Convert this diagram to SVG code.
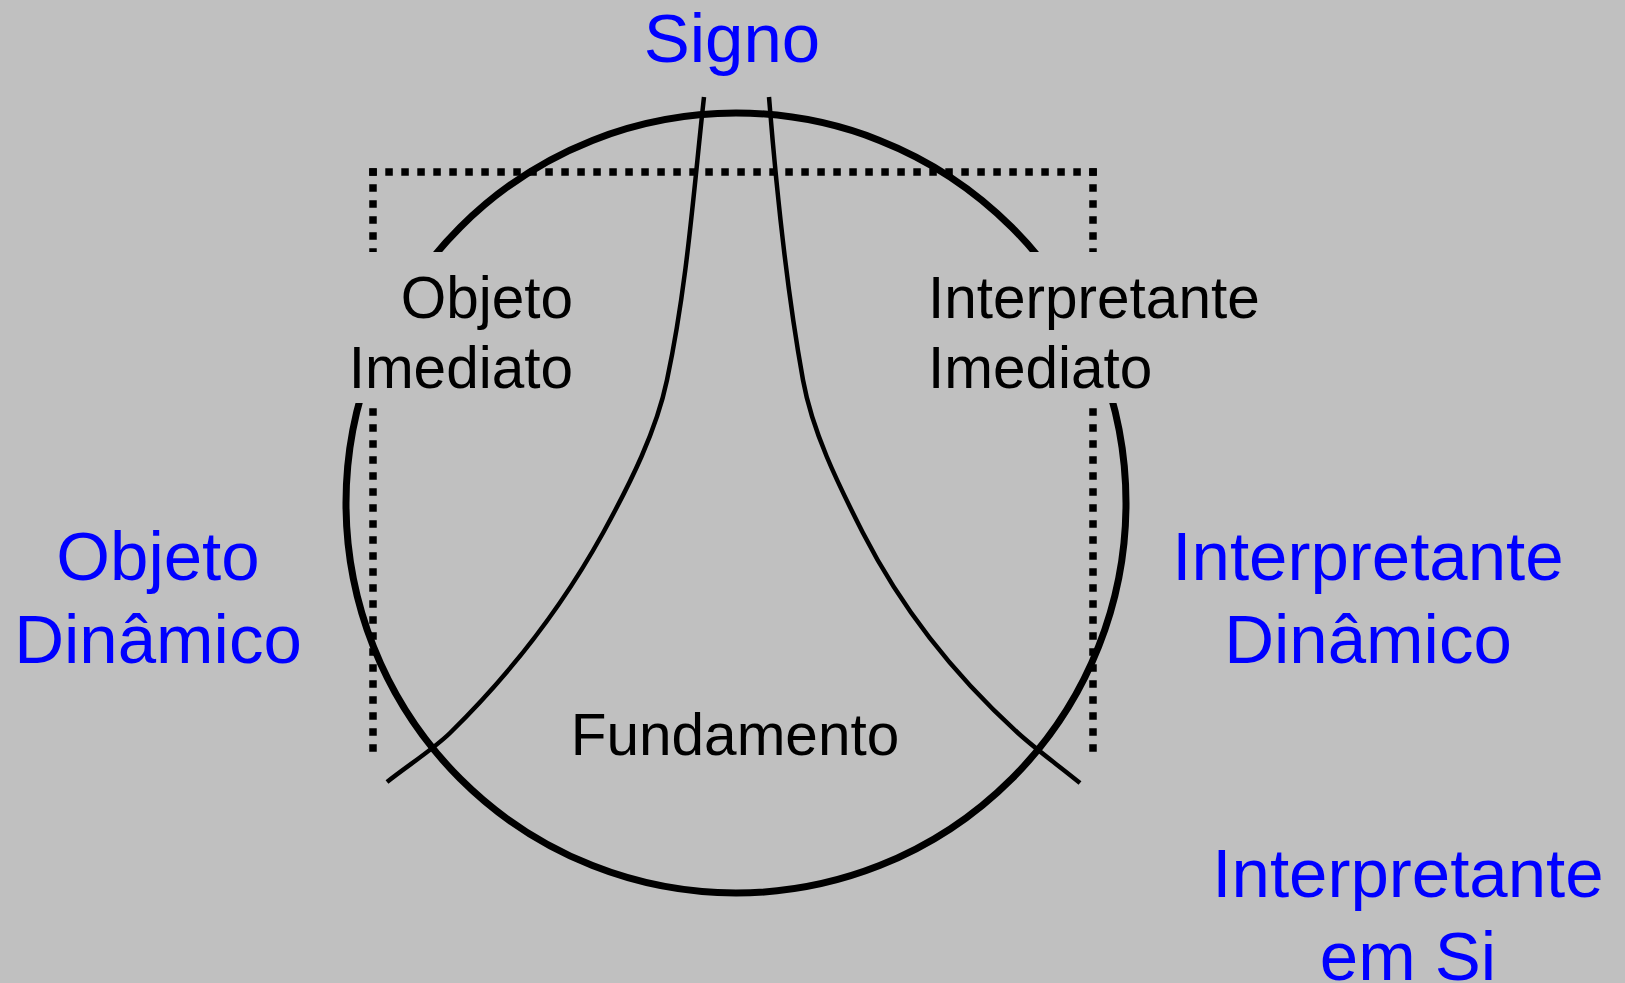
<svg xmlns="http://www.w3.org/2000/svg" width="1625" height="983" viewBox="0 0 1625 983">
  <style>
    .bg { fill: #c0c0c0; }
    .mask { fill: #c0c0c0; stroke: none; }
    .ring { fill: none; stroke: #000; stroke-width: 7; }
    .dots { fill: none; stroke: #000; stroke-width: 7.5; stroke-dasharray: 7.5 8.5; }
    .curve { fill: none; stroke: #000; stroke-width: 4.5; }
    .blue { font-family: "Liberation Sans", Arial, sans-serif; font-size: 69px; fill: #0000ff; }
    .black { font-family: "Liberation Sans", Arial, sans-serif; font-size: 58.5px; fill: #000; }
  </style>
  <rect class="bg" x="0" y="0" width="1625" height="983"/>

  <g id="fundamento-circle">
    <circle class="ring" cx="736" cy="503" r="390"/>
  </g>

  <g id="imediato-frame">
    <line class="dots" x1="369.3" y1="172" x2="1097" y2="172"/>
    <line class="dots" x1="373" y1="168.3" x2="373" y2="752"/>
    <line class="dots" x1="1093" y1="168.3" x2="1093" y2="752"/>
  </g>

  <g id="connectors">
    <path class="curve" d="M704,97 C693.5,192 687,286 667,380 C656.3,431 631,482 603,533 C566,600 518.3,666 450,733 C433.7,749 407,766 387,782"/>
    <path class="curve" d="M769,97 C776.5,191 786,286 803,380 C812.2,431 837,482 863,533 C897.2,600 944.3,666 1018,733 C1036.7,750 1059.3,766 1080,783"/>
  </g>

  <g id="node-signo">
    <text class="blue" x="732" y="62" text-anchor="middle">Signo</text>
  </g>

  <g id="node-objeto-imediato">
    <rect class="mask" x="338" y="252" width="250" height="151"/>
    <text class="black" text-anchor="end"><tspan x="573" y="318">Objeto</tspan><tspan x="573" y="388">Imediato</tspan></text>
  </g>

  <g id="node-interpretante-imediato">
    <rect class="mask" x="918" y="252" width="352" height="151"/>
    <text class="black"><tspan x="928" y="318">Interpretante</tspan><tspan x="928" y="388">Imediato</tspan></text>
  </g>

  <g id="node-fundamento">
    <text class="black" x="735" y="755" text-anchor="middle">Fundamento</text>
  </g>

  <g id="node-objeto-dinamico">
    <text class="blue" text-anchor="middle"><tspan x="158" y="580">Objeto</tspan><tspan x="158" y="663">Dinâmico</tspan></text>
  </g>

  <g id="node-interpretante-dinamico">
    <text class="blue" text-anchor="middle"><tspan x="1368" y="580">Interpretante</tspan><tspan x="1368" y="663">Dinâmico</tspan></text>
  </g>

  <g id="node-interpretante-em-si">
    <text class="blue" text-anchor="middle"><tspan x="1408" y="897">Interpretante</tspan><tspan x="1408" y="980">em Si</tspan></text>
  </g>
</svg>
